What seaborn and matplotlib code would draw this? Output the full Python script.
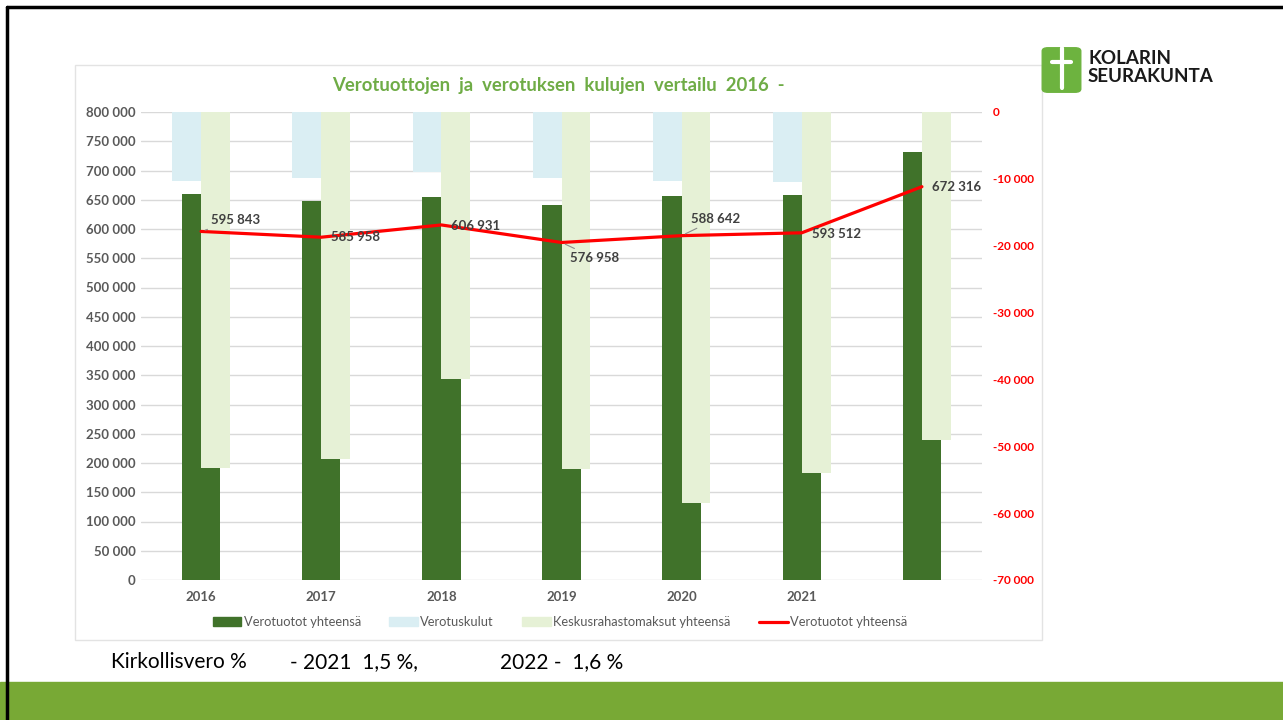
import numpy as np
import pandas as pd
import matplotlib
matplotlib.use("Agg")
import matplotlib.pyplot as plt
import seaborn as sns
from matplotlib.patches import Patch, Rectangle, FancyBboxPatch
from matplotlib.lines import Line2D
from matplotlib.ticker import FuncFormatter, MultipleLocator

# Data
years = ['2016', '2017', '2018', '2019', '2020', '2021', '']
verotuotot = [659300, 647300, 655200, 640500, 657000, 658100, 731100]
verotuskulut = [-10300, -9900, -9000, -9900, -10300, -10500, 0]
keskusrahasto = [-53250, -51950, -40000, -53350, -58500, -54000, -49050]
netto = [595843, 585958, 606931, 576958, 588642, 593512, 672316]
netto_labels = ['595 843', '585 958', '606 931', '576 958', '588 642', '593 512', '672 316']

sns.set_theme(style='white')
plt.rcParams['font.family'] = ['Lato', 'DejaVu Sans']

dark_green = '#40722A'
light_blue = '#DAEEF3'
light_green = '#E6F1D6'
red = '#FF0000'
grey_txt = '#595959'

fig = plt.figure(figsize=(12.83, 7.20), dpi=100)
W, H = 1283, 720

# slide decoration
fig.add_artist(Rectangle((0, 0), 1, 38 / H, transform=fig.transFigure, color='#78A935', zorder=0))
fig.add_artist(Line2D([6.5 / W, 6.5 / W], [0, 1 - 6.5 / H], transform=fig.transFigure, color='black', lw=2.5))
fig.add_artist(Line2D([6.5 / W, 1], [1 - 6.5 / H, 1 - 6.5 / H], transform=fig.transFigure, color='black', lw=2.5))
fig.add_artist(Rectangle((75 / W, 1 - 640 / H), 967 / W, 575 / H, transform=fig.transFigure,
                         fill=False, edgecolor='#e3e3e3', lw=1))

# logo
fig.add_artist(FancyBboxPatch((1048 / W, 1 - 89 / H), 27 / W, 38 / H, transform=fig.transFigure,
                              boxstyle='round,pad=0.0045', color='#6DB33F'))
fig.add_artist(Line2D([1061.5 / W, 1061.5 / W], [1 - 88 / H, 1 - 48 / H], transform=fig.transFigure,
                      color='white', lw=3))
fig.add_artist(Line2D([1052 / W, 1071 / W], [1 - 62 / H, 1 - 62 / H], transform=fig.transFigure,
                      color='white', lw=3))
fig.text(1088 / W, 1 - 58 / H, 'KOLARIN', fontsize=13.5, fontweight='bold', color='#1a1a1a', va='center')
fig.text(1088 / W, 1 - 76 / H, 'SEURAKUNTA', fontsize=13.5, fontweight='bold', color='#1a1a1a', va='center')

# axes
ax1 = fig.add_axes([141 / W, 1 - 580 / H, 841 / W, 468 / H])
ax2 = ax1.twinx()
ax3 = ax1.twinx()

sns.barplot(x=years, y=verotuotot, ax=ax1, color=dark_green, width=0.32, saturation=1,
            errorbar=None, linewidth=0)

df_kulut = pd.DataFrame({
    'vuosi': years * 2,
    'arvo': verotuskulut + keskusrahasto,
    'sarja': ['Verotuskulut'] * len(years) + ['Keskusrahastomaksut yhteensä'] * len(years),
})
sns.barplot(data=df_kulut, x='vuosi', y='arvo', hue='sarja', ax=ax2,
            hue_order=['Verotuskulut', 'Keskusrahastomaksut yhteensä'],
            palette=[light_blue, light_green], width=0.48, saturation=1, errorbar=None,
            legend=False, linewidth=0)

pos = np.arange(len(years))
sns.lineplot(x=pos, y=netto, ax=ax3, color=red, lw=2.3)

ax1.set_ylim(0, 800000)
ax3.set_ylim(0, 800000)
ax2.set_ylim(-70000, 0)
ax1.set_xlim(-0.5, len(years) - 0.5)

fmt = FuncFormatter(lambda v, p: f"{int(round(v)):,}".replace(',', ' '))
ax1.yaxis.set_major_locator(MultipleLocator(50000))
ax1.yaxis.set_major_formatter(fmt)
ax2.yaxis.set_major_locator(MultipleLocator(10000))
ax2.yaxis.set_major_formatter(fmt)

ax1.grid(axis='y', color='#d9d9d9', lw=1)
ax1.set_axisbelow(True)
for a in (ax1, ax2, ax3):
    for s in a.spines.values():
        s.set_visible(False)
    a.set_xlabel('')
    a.set_ylabel('')
ax3.set_yticks([])

ax1.tick_params(axis='y', length=0, pad=4, labelsize=9.5, labelcolor=grey_txt)
ax1.tick_params(axis='x', length=0, pad=8, labelsize=9.5, labelcolor=grey_txt)
for t in ax1.get_yticklabels() + ax1.get_xticklabels():
    t.set_fontweight('bold')
ax2.tick_params(axis='y', length=0, pad=8, labelsize=8.5, labelcolor=red)
for t in ax2.get_yticklabels():
    t.set_fontweight('bold')

# data labels of the line
offsets = [(7, 8), (7, 0), (7, -1), (6, -11), (7, 12), (7, -1), (7, 0)]
leaders = [True, False, False, True, True, False, False]
for i, (val, lab) in enumerate(zip(netto, netto_labels)):
    kw = {}
    if leaders[i]:
        kw['arrowprops'] = dict(arrowstyle='-', color='#8c8c8c', lw=0.8, shrinkA=0, shrinkB=3)
    ax3.annotate(lab, xy=(pos[i], val), xytext=offsets[i], textcoords='offset points',
                 ha='left', va='center', fontsize=9.5, fontweight='bold', color='#404040', **kw)

fig.text(558 / W, 1 - 86 / H, 'Verotuottojen  ja  verotuksen  kulujen  vertailu  2016  -',
         ha='center', va='center', fontsize=13.3, fontweight='bold', color='#6FAC46')

handles = [Patch(color=dark_green), Patch(color=light_blue), Patch(color=light_green),
           Line2D([], [], color=red, lw=2.3)]
labels = ['Verotuotot yhteensä', 'Verotuskulut', 'Keskusrahastomaksut yhteensä', 'Verotuotot yhteensä']
leg = fig.legend(handles, labels, loc='center', bbox_to_anchor=(560 / W, 1 - 622 / H), ncol=4,
                 frameon=False, fontsize=9.3, handlelength=2.2, handleheight=0.6, columnspacing=2.2,
                 handletextpad=0.2)
for t in leg.get_texts():
    t.set_color(grey_txt)

# footer
fig.text(111 / W, 1 - 662 / H, 'Kirkollisvero %', fontsize=15, va='center', color='black')
fig.text(290 / W, 1 - 662 / H, '- 2021  1,5 %,', fontsize=15, va='center', color='black')
fig.text(500 / W, 1 - 662 / H, '2022 -  1,6 %', fontsize=15, va='center', color='black')

fig.savefig('out.png', dpi=100)
